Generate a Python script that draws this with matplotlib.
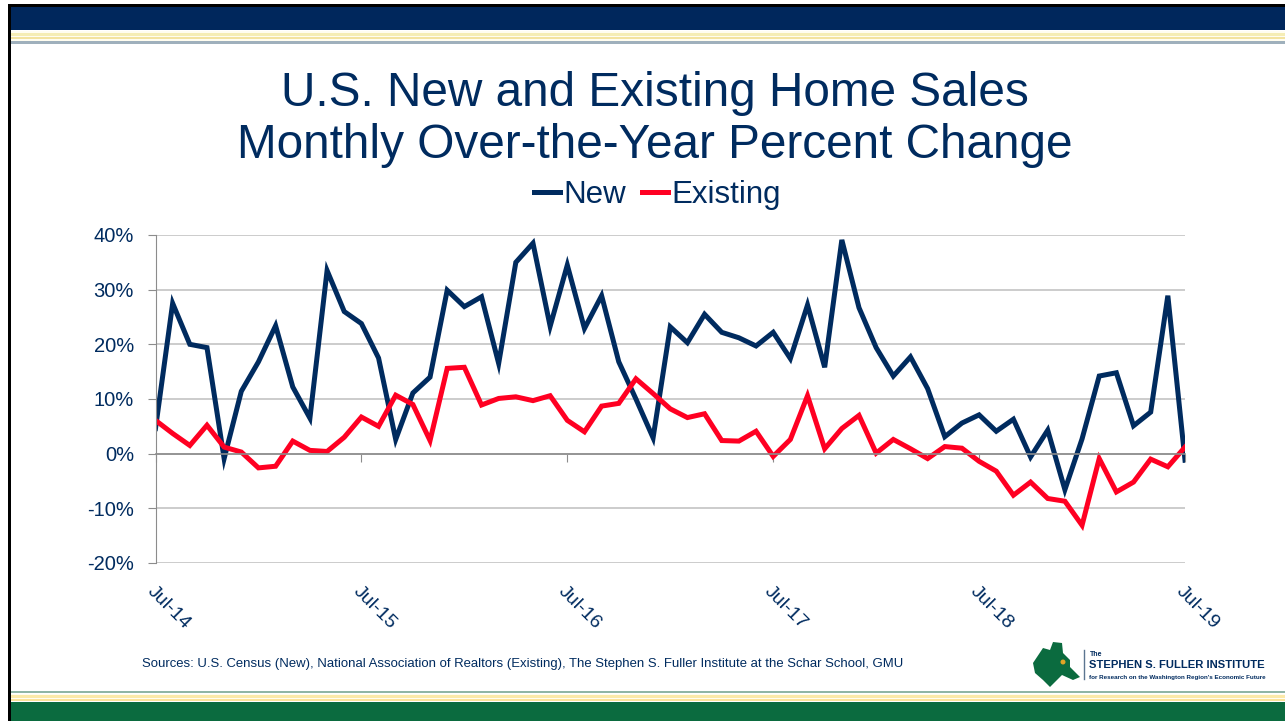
import matplotlib
matplotlib.use('Agg')
import matplotlib.pyplot as plt
from matplotlib.patches import Polygon, Circle, Rectangle

plt.rcParams['font.family'] = ['Liberation Sans', 'DejaVu Sans']

# monthly values, Jul-14 through Jul-19
new_sales = [4.6, 27.5, 20, 19.4, -0.9, 11.4, 16.8, 23.4, 12.2, 6.5, 33.5, 26, 23.8, 17.5, 2.6, 11.1,
             14, 29.9, 26.9, 28.7, 16.5, 35, 38.5, 23.3, 34.5, 22.9, 28.9, 16.8, 10, 2.9, 23.2, 20.3,
             25.5, 22.2, 21.2, 19.7, 22.2, 17.4, 27.2, 15.8, 39.1, 26.7, 19.4, 14.2, 17.7, 11.9, 3.1,
             5.6, 7.1, 4.1, 6.3, -0.6, 4.3, -6.6, 2.7, 14.2, 14.8, 5.1, 7.6, 28.9, -1.2]
existing_sales = [6.1, 3.7, 1.5, 5.2, 1.2, 0.3, -2.6, -2.3, 2.3, 0.6, 0.4, 3, 6.7, 5, 10.7, 9,
                  2.4, 15.6, 15.8, 8.9, 10.1, 10.4, 9.7, 10.6, 6.1, 4, 8.7, 9.2, 13.7, 11, 8.2, 6.6,
                  7.3, 2.4, 2.3, 4.1, -0.5, 2.6, 10.6, 0.9, 4.6, 7, 0.1, 2.6, 0.9, -0.9, 1.3,
                  1, -1.4, -3.2, -7.6, -5.2, -8.2, -8.7, -13.1, -0.9, -7, -5.2, -1, -2.4, 1.2]
x_labels = ['Jul-14', 'Jul-15', 'Jul-16', 'Jul-17', 'Jul-18', 'Jul-19']
y_ticks = [-20, -10, 0, 10, 20, 30, 40]

NAVY = '#002B5F'
RED = '#FF0022'
GREEN = '#0B6B3F'
W, H = 1285, 721

fig = plt.figure(figsize=(W / 100, H / 100), dpi=100)

# slide furniture, drawn in pixel coordinates
bg = fig.add_axes([0, 0, 1, 1])
bg.set_xlim(0, W)
bg.set_ylim(H, 0)
bg.axis('off')


def band(y0, y1, color, x0=9):
    bg.add_patch(Rectangle((x0, y0), W - x0, y1 - y0, color=color, lw=0))


band(6, 30, '#00275C')
band(31, 42, '#FFFDF0')
band(33, 36, '#F5EDB5')
band(37, 38.5, '#F3E3A0')
band(41, 43.5, '#9FB0BC')
band(691, 693, '#8FB5A5')
band(694, 701, '#FFFDF0')
band(695, 697.5, '#FBE9A8')
band(699, 700.5, '#FBE29A')
band(702, 721, GREEN)
bg.add_patch(Rectangle((8, 4), W - 8, 2.5, color='black', lw=0))
bg.add_patch(Rectangle((8, 4), 2.5, H - 4, color='black', lw=0))

# logo
map_shape = [(1033, 663), (1043, 648), (1050, 650), (1053, 642), (1062, 643), (1063, 653), (1070, 660),
             (1070, 667), (1080, 677), (1073, 680), (1062, 675), (1050, 687), (1043, 680), (1035, 673)]
bg.add_patch(Polygon(map_shape, closed=True, color=GREEN, lw=0))
bg.add_patch(Circle((1063, 662), 2.5, color='#E0A526', lw=0))
bg.plot([1084, 1084], [650, 679], color='#5B7590', lw=1)
bg.text(1090, 654, 'The', fontsize=5, color=NAVY, va='center', fontweight='bold')
bg.text(1089, 665.5, 'STEPHEN S. FULLER INSTITUTE', fontsize=8.15, color=NAVY, va='center', fontweight='bold')
bg.text(1089, 677, "for Research on the Washington Region's Economic Future", fontsize=4.5,
        color=NAVY, va='center', fontweight='bold')

# titles and source
bg.text(655, 94, 'U.S. New and Existing Home Sales', fontsize=34.4, color=NAVY, ha='center', va='center')
bg.text(655, 146, 'Monthly Over-the-Year Percent Change', fontsize=34.4, color=NAVY, ha='center', va='center')
bg.text(142, 664, 'Sources: U.S. Census (New), National Association of Realtors (Existing), '
        'The Stephen S. Fuller Institute at the Schar School, GMU', fontsize=9.43, color=NAVY, va='center')

# chart
left, right, top, bottom = 155.5, 1185, 235, 563
ax = fig.add_axes([left / W, 1 - bottom / H, (right - left) / W, (bottom - top) / H])
ax.patch.set_alpha(0)

# has to come before the tick setup, moving the spine resets the ticks
ax.spines['bottom'].set_position(('data', 0))
ax.spines['bottom'].set_color('#8C8C8C')
ax.spines['bottom'].set_linewidth(1.2)
for side in ['top', 'right']:
    ax.spines[side].set_visible(False)
ax.spines['left'].set_color('#8C8C8C')

months = list(range(len(new_sales)))
ax.plot(months, new_sales, color=NAVY, lw=3.6, label='New', solid_joinstyle='miter')
ax.plot(months, existing_sales, color=RED, lw=3.6, label='Existing', solid_joinstyle='miter')
ax.set_xlim(0, 60)
ax.set_ylim(-20, 40)
ax.set_yticks(y_ticks)
ax.set_yticklabels([f'{v}%' for v in y_ticks], fontsize=14.5, color=NAVY)
ax.set_xticks(months[::12])
ax.set_xticklabels(x_labels, fontsize=14, color=NAVY, rotation=-45, ha='left', va='top',
                   rotation_mode='anchor')
ax.tick_params(axis='x', length=6, color='#8C8C8C', pad=87, direction='out')
ax.tick_params(axis='y', length=6, color='#8C8C8C', pad=9.5, direction='out')
ax.grid(axis='y', color='#C4C4C4', lw=1.2, zorder=0)
ax.set_axisbelow(True)

leg = ax.legend(loc='lower center', bbox_to_anchor=(0.4876, 1.0), ncol=2, frameon=False, fontsize=22.5,
                handlelength=0.85, handletextpad=0.1, columnspacing=0.5, labelcolor=NAVY, borderaxespad=0.4)
for line in leg.get_lines():
    line.set_linewidth(3.6)

fig.savefig('out.png', dpi=100)
